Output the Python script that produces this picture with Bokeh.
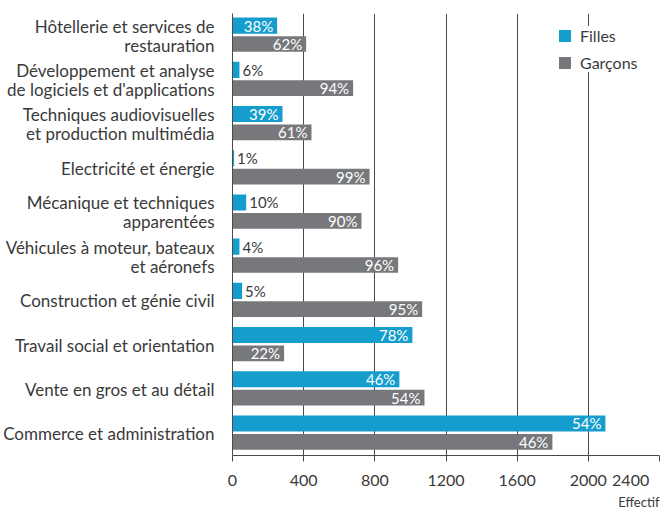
from bokeh.plotting import figure
from bokeh.models import ColumnDataSource, FixedTicker, Legend, LegendItem, Title, Range1d
from bokeh.transform import dodge
from bokeh.core.properties import value
from bokeh.embed import file_html
from bokeh.resources import INLINE

categories = [
    "Hôtellerie et services de\nrestauration",
    "Développement et analyse\nde logiciels et d'applications",
    "Techniques audiovisuelles\net production multimédia",
    "Electricité et énergie",
    "Mécanique et techniques\napparentées",
    "Véhicules à moteur, bateaux\net aéronefs",
    "Construction et génie civil",
    "Travail social et orientation",
    "Vente en gros et au détail",
    "Commerce et administration",
]
filles = [251, 39, 281, 9, 77, 39, 54, 1011, 938, 2096]
garcons = [414, 678, 444, 770, 725, 931, 1066, 290, 1079, 1798]
pct_filles = [38, 6, 39, 1, 10, 4, 5, 78, 46, 54]
pct_garcons = [62, 94, 61, 99, 90, 96, 95, 22, 54, 46]
x_ticks = [0, 400, 800, 1200, 1600, 2000, 2400]

BLUE = "#159dcd"
GRAY = "#77787b"
TXT = "#3a3a3a"
LINE = "#4a4a4a"
FONT = "Lato"

n = len(categories)
ypos = [n - 1 - i for i in range(n)]

def label_cols(vals, pcts):
    inside = [v >= 150 for v in vals]
    return dict(
        lab=[f"{p}%" for p in pcts],
        align=["right" if ins else "left" for ins in inside],
        xoff=[-4 if ins else 3 for ins in inside],
        col=["white" if ins else TXT for ins in inside],
    )

lf = label_cols(filles, pct_filles)
lg = label_cols(garcons, pct_garcons)
src = ColumnDataSource(dict(
    y=ypos, f=filles, g=garcons,
    lf=lf["lab"], af=lf["align"], of=lf["xoff"], cf=lf["col"],
    lg=lg["lab"], ag=lg["align"], og=lg["xoff"], cg=lg["col"],
))

p = figure(width=661, height=509, output_backend="svg", toolbar_location=None,
           x_range=Range1d(0, 2400), y_range=Range1d(-0.5, n - 0.5),
           min_border_left=232, min_border_right=2, min_border_top=13, min_border_bottom=50)
p.outline_line_color = None
p.background_fill_color = "white"

rf = p.hbar(y=dodge("y", 0.225, range=p.y_range), right="f", left=0, height=0.365,
            source=src, fill_color=BLUE, line_color=None)
rg = p.hbar(y=dodge("y", -0.19, range=p.y_range), right="g", left=0, height=0.355,
            source=src, fill_color=GRAY, line_color=None)

p.text(x="f", y=dodge("y", 0.225, range=p.y_range), text="lf", text_align="af",
       x_offset="of", text_color="cf", text_baseline="middle", source=src,
       text_font=value(FONT), text_font_size="15px")
p.text(x="g", y=dodge("y", -0.19, range=p.y_range), text="lg", text_align="ag",
       x_offset="og", text_color="cg", text_baseline="middle", source=src,
       text_font=value(FONT), text_font_size="15px")

# axes
p.xaxis.ticker = FixedTicker(ticks=x_ticks)
# last label padded with no-break spaces so it stays inside the page, as in the original
p.xaxis.major_label_overrides = {x_ticks[-1]: str(x_ticks[-1]) + "\u00a0" * 3}
p.xaxis.minor_tick_line_color = None
p.xaxis.major_tick_out = 6
p.xaxis.major_tick_in = 0
p.xaxis.axis_line_color = LINE
p.xaxis.major_tick_line_color = LINE
p.xaxis.major_label_text_font = FONT
p.xaxis.major_label_text_font_size = "16px"
p.xaxis.major_label_text_color = TXT
p.xaxis.major_label_standoff = 8

p.yaxis.ticker = FixedTicker(ticks=ypos)
p.yaxis.major_label_overrides = {y: c for y, c in zip(ypos, categories)}
p.yaxis.minor_tick_line_color = None
p.yaxis.major_tick_line_color = None
p.yaxis.axis_line_color = LINE
p.yaxis.major_label_text_font = FONT
p.yaxis.major_label_text_font_size = "17px"
p.yaxis.major_label_text_line_height = 0.9
p.yaxis.major_label_text_color = TXT
p.yaxis.major_label_standoff = 12

p.ygrid.grid_line_color = None
p.xgrid.grid_line_color = LINE
p.xgrid.grid_line_width = 1

p.add_layout(Title(text="Effectif", align="right", text_font=FONT, text_font_size="13px",
                   text_font_style="normal", text_color=TXT, standoff=0, offset=0), "below")

legend = Legend(items=[LegendItem(label="Filles", renderers=[rf]),
                       LegendItem(label="Garçons", renderers=[rg])],
                location=(325, 383), glyph_width=15, glyph_height=15, label_standoff=8,
                label_text_font=FONT, label_text_font_size="16px", label_text_color=TXT,
                spacing=8, padding=10, border_line_color=None,
                background_fill_color="white", background_fill_alpha=1.0)
p.add_layout(legend)

open("out.html", "w").write(file_html(p, INLINE))
